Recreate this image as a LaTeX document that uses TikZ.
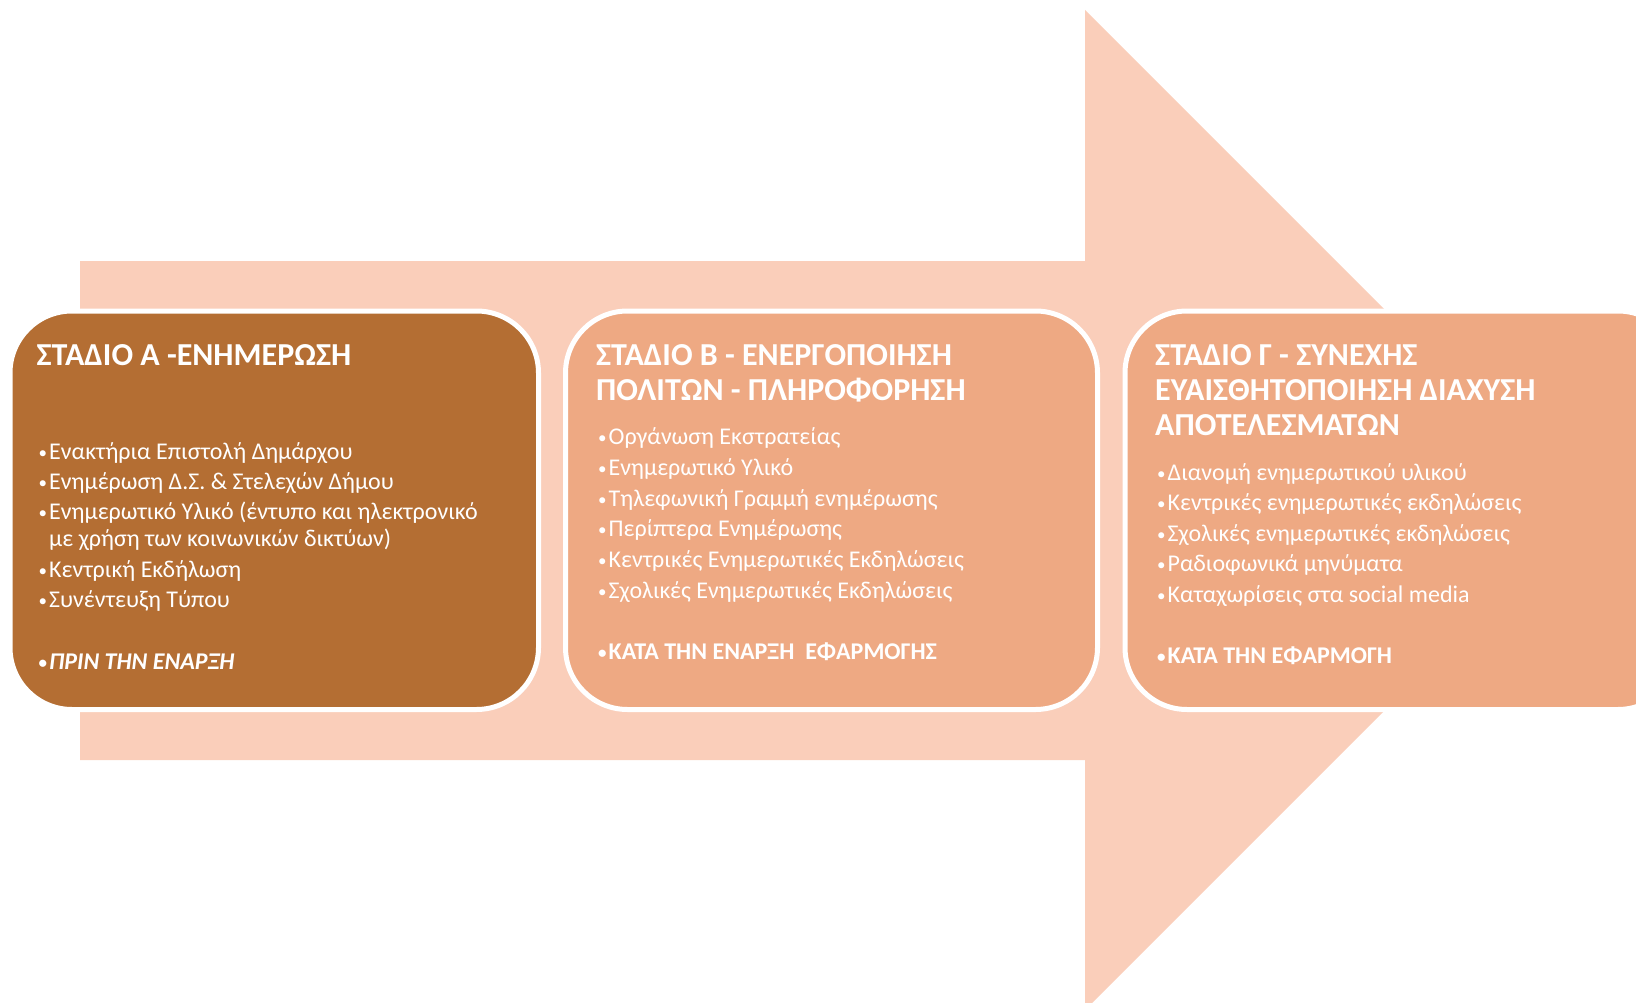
\documentclass[tikz,border=0pt]{standalone}
\usepackage{fontspec}
\setmainfont{Carlito}
\definecolor{arrowc}{RGB}{250,206,186}
\definecolor{stageA}{RGB}{180,110,51}
\definecolor{stageB}{RGB}{238,169,131}
\newcommand{\itm}[1]{\makebox[10.5pt][l]{\raisebox{1pt}{\fontsize{17}{17}\selectfont•}}#1}
\newcommand{\cont}[1]{\hspace*{10.5pt}#1}
\tikzset{
  stagebox/.style={draw=white, line width=5pt, rounded corners=62pt, inner sep=0pt},
  ttl/.style={anchor=base west, inner sep=0pt, text=white, font=\fontsize{32}{36}\selectfont\bfseries},
  txt/.style={anchor=base west, inner sep=0pt, text=white, font=\fontsize{24}{28}\selectfont},
  txtb/.style={anchor=base west, inner sep=0pt, text=white, font=\fontsize{24}{28}\selectfont\bfseries},
}
\begin{document}
\begin{tikzpicture}[x=1pt,y=-1pt]
\useasboundingbox (0,0) rectangle (1636,1003);
% big arrow
\fill[arrowc] (80,261) -- (1085,261) -- (1085,10) -- (1585,510) -- (1085,1010) -- (1085,760) -- (80,760) -- cycle;
% stage boxes
\draw[stagebox, fill=stageA] (10,311) rectangle (538.5,709.5);
\node[inner sep=0pt] (boxA) at (274.5,510) {};
\draw[stagebox, fill=stageB] (565.5,311) rectangle (1097.5,709.5);
\node[inner sep=0pt] (boxB) at (831.5,510) {};
\draw[stagebox, fill=stageB] (1125,311) rectangle (1680,709.5);
\node[inner sep=0pt] (boxC) at (1400,510) {};
% Box A text
\node[ttl] (tA) at (36.5,365) {ΣΤΑΔΙΟ Α -ΕΝΗΜΕΡΩΣΗ};
\node[txt] (a1) at (38.5,459) {\itm{Ενακτήρια Επιστολή Δημάρχου}};
\node[txt] (a2) at (38.5,489) {\itm{Ενημέρωση Δ.Σ. \& Στελεχών Δήμου}};
\node[txt] (a3) at (38.5,519) {\itm{Ενημερωτικό Υλικό (έντυπο και ηλεκτρονικό}};
\node[txt] (a3b) at (38.5,546) {\cont{με χρήση των κοινωνικών δικτύων)}};
\node[txt] (a4) at (38.5,577) {\itm{Κεντρική Εκδήλωση}};
\node[txt] (a5) at (38.5,607) {\itm{Συνέντευξη Τύπου}};
\node[txtb] (a6) at (38.5,669) {\itm{\itshape ΠΡΙΝ ΤΗΝ ΕΝΑΡΞΗ}};
% Box B text
\node[ttl] (tB1) at (596,365) {ΣΤΑΔΙΟ Β - ΕΝΕΡΓΟΠΟΙΗΣΗ};
\node[ttl] (tB2) at (596,400) {ΠΟΛΙΤΩΝ - ΠΛΗΡΟΦΟΡΗΣΗ};
\node[txt] (b1) at (598,444) {\itm{Οργάνωση Εκστρατείας}};
\node[txt] (b2) at (598,475) {\itm{Ενημερωτικό Υλικό}};
\node[txt] (b3) at (598,506) {\itm{Τηλεφωνική Γραμμή ενημέρωσης}};
\node[txt] (b4) at (598,536) {\itm{Περίπτερα Ενημέρωσης}};
\node[txt] (b5) at (598,567) {\itm{Κεντρικές Ενημερωτικές Εκδηλώσεις}};
\node[txt] (b6) at (598,598) {\itm{Σχολικές Ενημερωτικές Εκδηλώσεις}};
\node[txtb] (b7) at (598,659) {\itm{ΚΑΤΑ ΤΗΝ ΕΝΑΡΞΗ\ \ ΕΦΑΡΜΟΓΗΣ}};
% Box C text
\node[ttl] (tC1) at (1155,365) {ΣΤΑΔΙΟ Γ - ΣΥΝΕΧΗΣ};
\node[ttl] (tC2) at (1155,400) {ΕΥΑΙΣΘΗΤΟΠΟΙΗΣΗ ΔΙΑΧΥΣΗ};
\node[ttl] (tC3) at (1155,435) {ΑΠΟΤΕΛΕΣΜΑΤΩΝ};
\node[txt] (c1) at (1157,480) {\itm{Διανομή ενημερωτικού υλικού}};
\node[txt] (c2) at (1157,510) {\itm{Κεντρικές ενημερωτικές εκδηλώσεις}};
\node[txt] (c3) at (1157,541) {\itm{Σχολικές ενημερωτικές εκδηλώσεις}};
\node[txt] (c4) at (1157,571) {\itm{Ραδιοφωνικά μηνύματα}};
\node[txt] (c5) at (1157,602) {\itm{Καταχωρίσεις στα social media}};
\node[txtb] (c6) at (1157,663) {\itm{ΚΑΤΑ ΤΗΝ ΕΦΑΡΜΟΓΗ}};
\end{tikzpicture}
\end{document}
